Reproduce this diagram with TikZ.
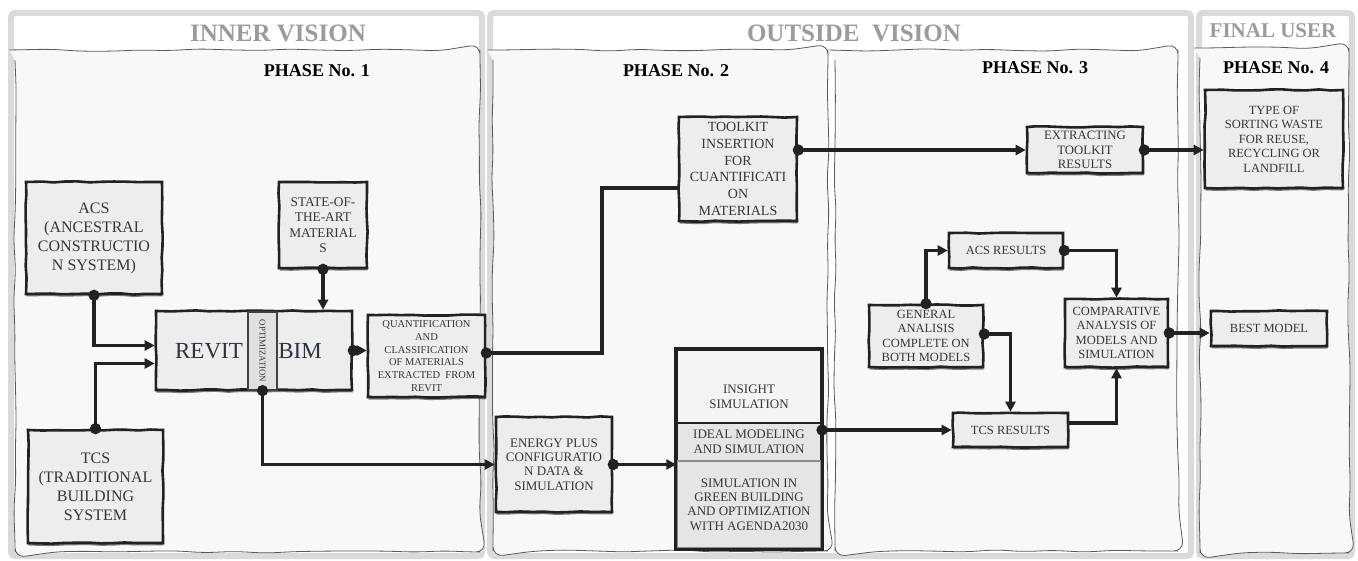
\documentclass[tikz,border=0pt]{standalone}
\usepackage{fontspec}
\setmainfont{Liberation Serif}
\usetikzlibrary{arrows.meta, positioning, shadows, decorations.pathmorphing}

\definecolor{ink}{HTML}{222222}
\definecolor{boxfill}{HTML}{EDEDED}
\definecolor{panelfill}{HTML}{F8F8F8}
\definecolor{framegray}{HTML}{DADADA}
\definecolor{titlegray}{HTML}{9B9B9B}
\definecolor{txt}{HTML}{363636}
\definecolor{slate}{HTML}{2B3240}

\begin{document}
\begin{tikzpicture}[x=1pt, y=-1pt,
    every node/.style={text=txt},
    frame/.style={draw=framegray, line width=6pt, fill=white, rounded corners=4pt},
    panel/.style={draw=black!65, line width=0.8pt, fill=panelfill, decorate,
        decoration={random steps, segment length=30pt, amplitude=1.3pt}, rounded corners=10pt},
    title/.style={font=\fontsize{25}{25}\selectfont\bfseries, text=titlegray},
    phase/.style={font=\fontsize{18}{18}\selectfont\bfseries, text=black},
    box/.style={draw=ink, line width=2.6pt, fill=boxfill, align=center, inner sep=0pt,
        decorate, decoration={random steps, segment length=12pt, amplitude=0.6pt},
        drop shadow={shadow xshift=0.5pt, shadow yshift=-2.5pt, opacity=0.5, fill=black}},
    flat/.style={draw=ink, line width=2pt, fill=boxfill, align=center, inner sep=0pt},
    fA/.style={font=\fontsize{16}{19}\selectfont},
    fB/.style={font=\fontsize{13.3}{15.5}\selectfont},
    fC/.style={font=\fontsize{12.5}{14.5}\selectfont},
    fD/.style={font=\fontsize{10.5}{12.7}\selectfont},
    fE/.style={font=\fontsize{14}{16.7}\selectfont},
    arr/.style={draw=ink, line width=3.8pt, -{Triangle[length=10pt, width=10pt]}},
    dotarr/.style={arr, {Circle[length=11pt]}-{Triangle[length=10pt, width=10pt]}, shorten <=-5.5pt},
    dotline/.style={draw=ink, line width=3.8pt, {Circle[length=11pt]}-, shorten <=-5.5pt},
]
\useasboundingbox (0,0) rectangle (1358,561);

% frames and phase panels
\draw[frame] (11,13) rectangle (482,556);
\draw[frame] (490,13) rectangle (1191,556);
\draw[frame] (1199,13) rectangle (1352,556);
\path[panel] (15,50) rectangle (480,552);
\path[panel] (493,50) rectangle (828,551);
\path[panel] (835,50) rectangle (1178,551);
\path[panel] (1200,48) rectangle (1349,553);

\node[title] (inner) at (278,33) {INNER VISION};
\node[title] (outside) at (854,33) {OUTSIDE\ \ VISION};
\node[title, font=\fontsize{21}{21}\selectfont\bfseries] (final) at (1273,31) {FINAL USER};

\node[phase] (ph1) at (317,71) {PHASE No. 1};
\node[phase] (ph2) at (676,71) {PHASE No. 2};
\node[phase] (ph3) at (1035,68) {PHASE No. 3};
\node[phase] (ph4) at (1276,68) {PHASE No. 4};

% phase 1
\node[box, fA, minimum width=136pt, minimum height=112pt] (acs) at (94,238) {ACS\\(ANCESTRAL\\CONSTRUCTIO\\N SYSTEM)};
\node[box, fB, minimum width=88pt, minimum height=86pt] (state) at (323,225) {STATE-OF-\\THE-ART\\MATERIAL\\S};
\node[box, minimum width=196pt, minimum height=79pt] (revit) at (254,350.5) {};
\node[text=slate, font=\fontsize{23}{23}\selectfont] (revittxt) at (209,351) {REVIT};
\node[text=slate, font=\fontsize{23}{23}\selectfont] (bimtxt) at (300,351) {BIM};
\node[flat, line width=1.2pt, draw=black!75, fill=black!12, minimum width=78pt, minimum height=29pt, font=\fontsize{8.8}{8.8}\selectfont, rotate=-90] (opt) at (262.5,351) {OPTIMIZATION};
\node[box, fD, minimum width=117pt, minimum height=82pt] (quant) at (426.5,356) {QUANTIFICATION\\AND\\CLASSIFICATION\\OF MATERIALS\\EXTRACTED~~FROM\\REVIT};
\node[box, fA, minimum width=135pt, minimum height=113pt] (tcs) at (95.5,486.5) {TCS\\(TRADITIONAL\\BUILDING\\SYSTEM};

% phase 2
\node[box, fE, minimum width=118pt, minimum height=104pt] (toolkit) at (738,169) {TOOLKIT\\INSERTION\\FOR\\CUANTIFICATI\\ON\\MATERIALS};
\node[box, font=\fontsize{13}{14.3}\selectfont, minimum width=116pt, minimum height=95pt] (energy) at (554,464.5) {ENERGY PLUS\\CONFIGURATIO\\N DATA \&\\SIMULATION};
\node[box, minimum width=144pt, minimum height=198pt] (stack) at (749,449) {};
\node[flat, fill=boxfill!60!white, minimum width=144pt, minimum height=73pt] (ins) at (749,386.5) {};
\node[font=\fontsize{13}{15}\selectfont, align=center] (instxt) at (749,397) {INSIGHT\\SIMULATION};
\node[flat, font=\fontsize{13}{14.5}\selectfont, fill=black!10, minimum width=144pt, minimum height=38pt] (ideal) at (749,442) {IDEAL MODELING\\AND SIMULATION};
\node[flat, draw=black!45, line width=1.4pt, font=\fontsize{13}{14.3}\selectfont, fill=black!10, minimum width=144pt, minimum height=87pt] (green) at (749,504.5) {SIMULATION IN\\GREEN BUILDING\\AND OPTIMIZATION\\WITH AGENDA2030};
\draw[ink, line width=2.6pt] (stack.north west) rectangle (stack.south east);

% phase 3
\node[box, font=\fontsize{12.8}{14.5}\selectfont, minimum width=116pt, minimum height=46pt] (extract) at (1085,150) {EXTRACTING\\TOOLKIT\\RESULTS};
\node[box, fC, minimum width=114pt, minimum height=35pt] (acsres) at (1006,250.5) {ACS RESULTS};
\node[box, fC, minimum width=114pt, minimum height=62pt] (general) at (926,336) {GENERAL\\ANALISIS\\COMPLETE ON\\BOTH MODELS};
\node[box, fC, minimum width=103pt, minimum height=68pt] (comp) at (1116.5,333) {COMPARATIVE\\ANALYSIS OF\\MODELS AND\\SIMULATION};
\node[box, fC, minimum width=115pt, minimum height=34pt] (tcsres) at (1010.5,430) {TCS RESULTS};

% phase 4
\node[box, fC, minimum width=138pt, minimum height=98pt] (sortw) at (1274,139) {TYPE OF\\SORTING WASTE\\FOR REUSE,\\RECYCLING OR\\LANDFILL};
\node[box, fC, minimum width=116pt, minimum height=35pt] (best) at (1269,328.5) {BEST MODEL};

% connectors
\draw[dotarr] (acs.south) |- ([yshift=5pt]revit.west);
\draw[dotarr] (tcs.north) |- ([yshift=-13pt]revit.west);
\draw[dotarr] (state.south) -- (state.south |- revit.north);
\draw[dotarr] (revit.east) -- (revit.east -| quant.west);
\draw[dotline] ([yshift=3pt]quant.east) -- ++(116,0) |- ([yshift=-19pt]toolkit.west);
\draw[dotarr] (opt.east) |- (energy.west);
\draw[dotarr] (energy.east) -- (energy.east -| green.west);
\draw[dotarr] (tcsres.west -| ideal.east) -- (tcsres.west);
\draw[dotarr] (extract.west -| toolkit.east) -- (extract.west);
\draw[dotarr] (extract.east) -- (extract.east -| sortw.west);
\draw[dotarr] (general.north) |- (acsres.west);
\draw[dotarr] ([yshift=2pt]general.east) -| (tcsres.north);
\draw[dotarr] (acsres.east) -| (comp.north);
\draw[arr] ([yshift=7pt]tcsres.east) -| (comp.south);
\draw[dotarr] (comp.east) -- (comp.east -| best.west);

\end{tikzpicture}
\end{document}
